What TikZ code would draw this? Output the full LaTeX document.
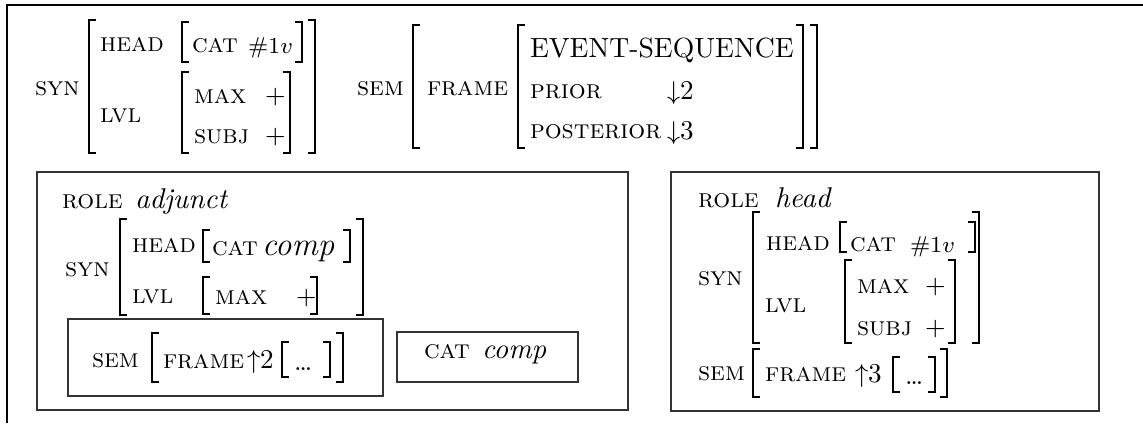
\documentclass[tikz,border=0pt]{standalone}
\usepackage{amsmath}
\usepackage{amssymb}
\usetikzlibrary{positioning}
% pair of square brackets: x left, x right, y top, y bottom
\newcommand{\brk}[4]{%
  \draw[brack] (#1+7,#3) -- (#1,#3) -- (#1,#4) -- (#1+7,#4);
  \draw[brack] (#2-7,#3) -- (#2,#3) -- (#2,#4) -- (#2-7,#4);}
\begin{document}
\begin{tikzpicture}[x=0.35pt,y=-0.35pt,
  every node/.style={inner sep=0pt,outer sep=0pt,anchor=base west},
  feat/.style={font=\fontsize{9.3}{11}\selectfont\scshape},
  val/.style={font=\fontsize{10}{12}\selectfont\itshape},
  sym/.style={font=\fontsize{9.5}{11}\selectfont},
  brack/.style={line width=0.7pt},
  box/.style={draw=black!80,line width=0.5pt}]
\useasboundingbox (0,0) rectangle (1143,423);
\draw[line width=0.5pt] (1143,5) -- (7,5) -- (7,423);
% mother: syn
\node[feat] (synT) at (35,95) {syn};
\node[feat] (headT) at (100,51) {head};
\node[feat] (catT) at (192,52) {cat};
\node[sym,font=\fontsize{8.5}{10}\selectfont] (vT) at (248,53) {$\#1v$};
\node[feat] (lvlT) at (100,122) {lvl};
\node[feat] (maxT) at (194,103) {max};
\node[sym] (plusT) at (265,103) {$+$};
\node[feat] (subjT) at (194,143) {subj};
\node[sym] (plusTT) at (265,143) {$+$};
\brk{89}{315}{20}{153}
\brk{182}{302}{22}{62}
\brk{182}{290}{72}{153}
% mother: sem
\node[feat] (semT) at (357,95) {sem};
\node[feat] (frameT) at (427,95) {frame};
\node[font=\fontsize{9.7}{12}\selectfont] (evseq) at (530,57) {EVENT-SEQUENCE};
\node[feat] (priorT) at (530,98) {prior};
\node[sym] (downA) at (667,99) {$\downarrow$2};
\node[feat] (postT) at (530,138) {posterior};
\node[sym] (downB) at (667,139) {$\downarrow$3};
\brk{413}{817}{25}{148}
\brk{518}{803}{25}{148}
% adjunct daughter
\draw[box] (37,172) rectangle (628,410);
\node[feat] (roleA) at (62,208) {role};
\node[val] (adjA) at (135,208) {adjunct};
\node[feat] (synA) at (65,276) {syn};
\node[feat] (headA) at (132,252) {head};
\node[feat] (catA) at (212,255) {cat};
\node[val,font=\fontsize{11.5}{13}\selectfont\itshape] (compA) at (262,255) {comp};
\node[feat] (lvlA) at (132,303) {lvl};
\node[feat] (maxA) at (215,304) {max};
\node[sym] (plusA) at (296,304) {$+$};
\brk{120}{363}{219}{315}
\brk{203}{350}{230}{262}
\brk{203}{317}{277}{314}
\draw[box] (68,319) rectangle (383,396);
\node[feat] (semA) at (92,367) {sem};
\node[feat] (frameA) at (163,368) {frame};
\node[sym] (upA) at (247,368) {$\uparrow$2};
\node[sym] (dotsA) at (294,370) {\dots};
\brk{152}{343}{333}{382}
\brk{282}{330}{342}{377}
\draw[box] (397,332) rectangle (578,382);
\node[feat] (catAA) at (424,358) {cat};
\node[val] (compAA) at (482,358) {comp};
% head daughter
\draw[box] (671,172) rectangle (1099,411);
\node[feat] (roleB) at (698,207) {role};
\node[val] (headvB) at (775,207) {head};
\node[feat] (synB) at (698,285) {syn};
\node[feat] (headB) at (766,250) {head};
\node[feat] (catB) at (850,251) {cat};
\node[sym,font=\fontsize{8.5}{10}\selectfont] (vB) at (910,252) {$\#1v$};
\node[feat] (lvlB) at (765,312) {lvl};
\node[feat] (maxB) at (857,293) {max};
\node[sym] (plusB) at (925,293) {$+$};
\node[feat] (subjB) at (857,335) {subj};
\node[sym] (plusBB) at (925,335) {$+$};
\brk{753}{979}{212}{343}
\brk{840}{975}{222}{252}
\brk{845}{955}{260}{343}
\node[feat] (semB) at (698,380) {sem};
\node[feat] (frameB) at (765,381) {frame};
\node[sym] (upB) at (855,382) {$\uparrow$3};
\node[sym] (dotsB) at (905,384) {\dots};
\brk{753}{947}{349}{397}
\brk{893}{935}{357}{392}
\end{tikzpicture}
\end{document}
